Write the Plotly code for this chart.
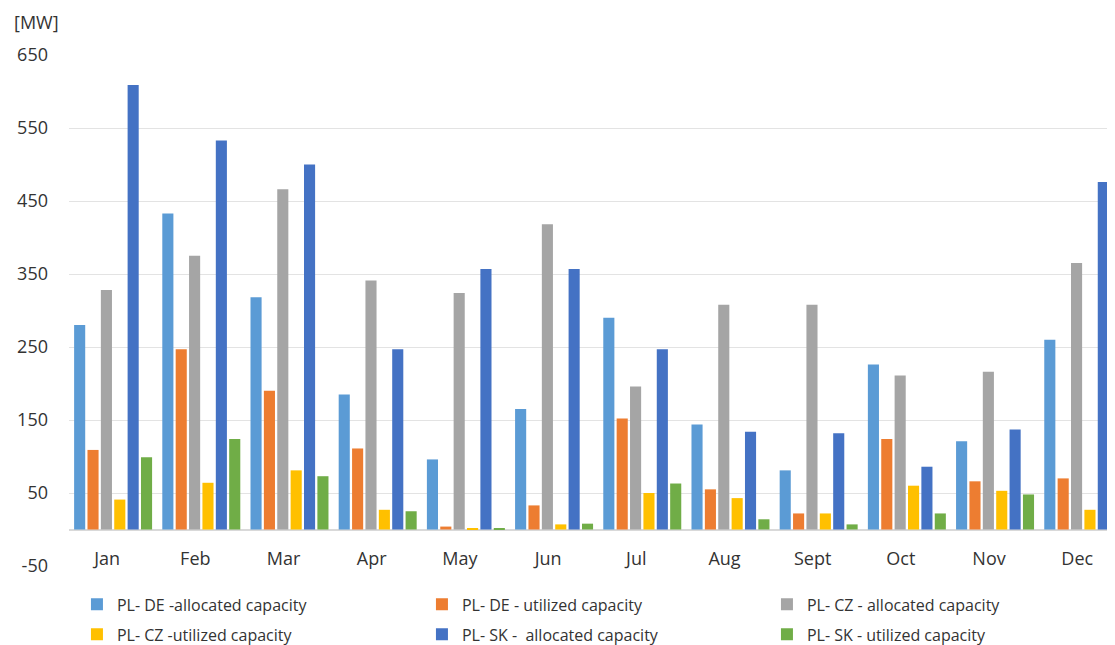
import plotly.graph_objects as go

months = ["Jan", "Feb", "Mar", "Apr", "May", "Jun", "Jul", "Aug", "Sept", "Oct", "Nov", "Dec"]

de_allocated = [280, 433, 318, 185, 96, 165, 290, 144, 81, 226, 121, 260]
de_utilized = [109, 247, 190, 111, 4, 33, 152, 55, 22, 124, 66, 70]
cz_allocated = [328, 375, 466, 341, 324, 418, 196, 308, 308, 211, 216, 365]
cz_utilized = [41, 64, 81, 27, 2, 7, 50, 43, 22, 60, 53, 27]
sk_allocated = [609, 533, 500, 247, 357, 357, 247, 134, 132, 86, 137, 476]
sk_utilized = [99, 124, 73, 25, 2, 8, 63, 14, 7, 22, 48, 55]

series_names = [
    "PL- DE -allocated capacity",
    "PL- DE - utilized capacity",
    "PL- CZ - allocated capacity",
    "PL- CZ -utilized capacity",
    "PL- SK -  allocated capacity",
    "PL- SK - utilized capacity",
]
series_values = [de_allocated, de_utilized, cz_allocated, cz_utilized, sk_allocated, sk_utilized]
colors = ["#5B9BD5", "#ED7D31", "#A5A5A5", "#FFC000", "#4472C4", "#70AD47"]
legend_ids = ["legend", "legend", "legend", "legend2", "legend2", "legend2"]

y_ticks = [-50, 50, 150, 250, 350, 450, 550, 650]
y_tick_labels = ["-50", "50", "150", "250", "350", "450", "550", "650"]
grid_vals = [50, 150, 250, 350, 450, 550, 650]

fig = go.Figure()
for name, vals, col, lg in zip(series_names, series_values, colors, legend_ids):
    fig.add_trace(go.Bar(x=months, y=vals, name=name, marker_color=col,
                         marker_line_width=0, legend=lg))

legend_common = dict(
    orientation="h", xanchor="left", yanchor="top",
    font=dict(family="Open Sans", size=16, color="#333333"),
    entrywidth=300, entrywidthmode="pixels",
    bgcolor="rgba(0,0,0,0)", traceorder="normal",
)

fig.update_layout(
    width=1115, height=645,
    margin=dict(l=61, r=8, t=47, b=87, autoexpand=False),
    paper_bgcolor="white", plot_bgcolor="white",
    barmode="group", bargap=0.09, bargroupgap=0.17,
    showlegend=True,
    legend=dict(x=0.0076, y=-0.042, **legend_common),
    legend2=dict(x=0.0076, y=-0.1005, **legend_common),
    font=dict(family="Open Sans", color="#333333"),
    xaxis=dict(
        type="category", range=[-0.5, 11.36],
        anchor="free", position=50 / 700,
        showline=False, showgrid=False, zeroline=False,
        ticks="outside", ticklen=13, tickcolor="rgba(0,0,0,0)",
        ticklabelshift=-6,
        tickfont=dict(family="Open Sans", size=18, color="#333333"),
    ),
    yaxis=dict(
        range=[-50, 650], tickvals=y_ticks, ticktext=y_tick_labels,
        showgrid=False, showline=False,
        zeroline=True, zerolinecolor="#D9D9D9", zerolinewidth=1.5,
        minor=dict(tickvals=grid_vals, showgrid=True, gridcolor="#E3E3E3", gridwidth=1),
        ticklabelstandoff=20,
        tickfont=dict(family="Open Sans", size=18, color="#333333"),
    ),
    annotations=[dict(
        text="[MW]", xref="paper", yref="paper", x=-0.0545, y=1.065,
        xanchor="left", yanchor="middle", showarrow=False,
        font=dict(family="Open Sans", size=18, color="#333333"),
    )],
)

fig.write_html("out.html")
